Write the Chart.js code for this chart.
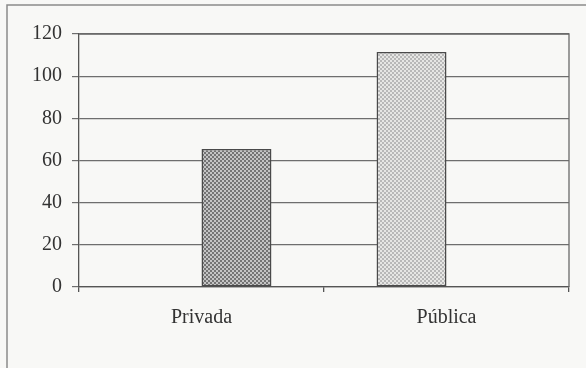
<!DOCTYPE html>
<html>
<head>
<meta charset="utf-8">
<script src="https://cdn.jsdelivr.net/npm/chart.js@4/dist/chart.umd.min.js"></script>
<style>
  html, body { margin: 0; padding: 0; background: #f8f8f6; }
  #wrap { position: relative; width: 586px; height: 368px; }
  canvas { display: block; }
</style>
</head>
<body>
<div id="wrap"><canvas id="c" width="586" height="368"></canvas></div>
<script>
// Categories and values
const categories = ['Privada', 'Pública'];
// Each sector occupies its own slot within the category (Excel-style two-series layout)
const publicaValues = [null, 111.5];
const privadaValues = [65.5, null];
const yTicks = [0, 20, 40, 60, 80, 100, 120];

// Dotted fills used for the bars
function dotPattern(bg, dot) {
  const p = document.createElement('canvas');
  p.width = 4; p.height = 4;
  const g = p.getContext('2d');
  g.fillStyle = bg; g.fillRect(0, 0, 4, 4);
  g.fillStyle = dot;
  g.fillRect(0, 0, 2, 2);
  g.fillRect(2, 2, 2, 2);
  return g.createPattern(p, 'repeat');
}
const ctx = document.getElementById('c').getContext('2d');
const darkFill = dotPattern('#c4c4c4', '#747474');
const lightFill = dotPattern('#e6e6e4', '#b8b8b8');

// Outer frame and plot-area border
const framePlugin = {
  id: 'frame',
  beforeDraw(chart) {
    const c = chart.ctx;
    c.save();
    c.fillStyle = '#f8f8f6';
    c.fillRect(0, 0, chart.width, chart.height);
    c.strokeStyle = '#8a8a8a';
    c.lineWidth = 1.5;
    c.beginPath();
    c.moveTo(7, chart.height + 2);
    c.lineTo(7, 5);
    c.lineTo(chart.width + 2, 5);
    c.stroke();
    c.restore();
  },
  afterDatasetsDraw(chart) {
    const a = chart.chartArea;
    const c = chart.ctx;
    c.save();
    c.strokeStyle = '#6a6a6a';
    c.lineWidth = 1.3;
    c.beginPath();
    c.moveTo(a.left, a.top);
    c.lineTo(a.right, a.top);
    c.lineTo(a.right, a.bottom);
    c.stroke();
    c.restore();
  }
};

new Chart(ctx, {
  type: 'bar',
  data: {
    labels: categories,
    datasets: [
      {
        label: 'Pública',
        data: publicaValues,
        backgroundColor: lightFill,
        borderColor: '#4a4a4a',
        borderWidth: 1.5,
        borderSkipped: false
      },
      {
        label: 'Privada',
        data: privadaValues,
        backgroundColor: darkFill,
        borderColor: '#4a4a4a',
        borderWidth: 1.5,
        borderSkipped: false
      }
    ]
  },
  options: {
    responsive: false,
    animation: false,
    devicePixelRatio: 1,
    layout: { padding: { top: 34, right: 17, left: 0, bottom: 0 } },
    plugins: { legend: { display: false }, tooltip: { enabled: false } },
    datasets: { bar: { categoryPercentage: 0.571, barPercentage: 1.0 } },
    scales: {
      x: {
        grid: {
          offset: true,
          drawOnChartArea: false,
          drawTicks: true,
          tickLength: 5,
          color: '#555',
          lineWidth: 1.3
        },
        border: { display: true, color: '#555', width: 1.3 },
        ticks: {
          color: '#333',
          padding: 14,
          font: { family: 'Liberation Serif', size: 20 }
        },
        afterFit(scale) { scale.height = 81; }
      },
      y: {
        min: 0,
        max: 120,
        afterBuildTicks(scale) { scale.ticks = yTicks.map(v => ({ value: v })); },
        grid: {
          color: '#6e6e6e',
          lineWidth: 1.2,
          tickLength: 7,
          drawTicks: true
        },
        border: { display: true, color: '#555', width: 1.3 },
        ticks: {
          color: '#333',
          padding: 10,
          font: { family: 'Liberation Serif', size: 20 }
        },
        afterFit(scale) { scale.width = 79; }
      }
    }
  },
  plugins: [framePlugin]
});
</script>
</body>
</html>
